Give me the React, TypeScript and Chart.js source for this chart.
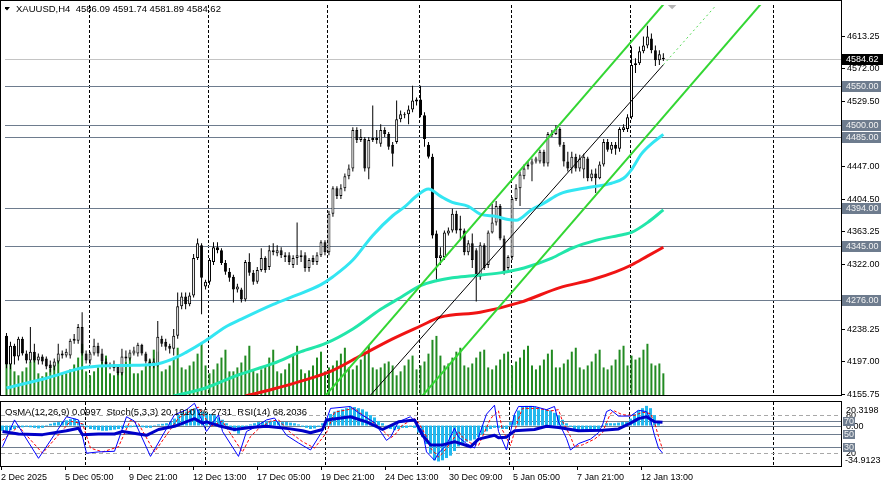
import React, { useEffect, useRef } from "react";
import { Chart, registerables } from "chart.js";

Chart.register(...registerables);

const FONT = '"Liberation Sans", Arial, Helvetica, sans-serif';
Chart.defaults.font.family = FONT;
Chart.defaults.color = "#000";

// ---------------- data ----------------
const symbolHeader = "XAUUSD,H4  4586.09 4591.74 4581.89 4584.62";
const indicatorHeader = "OsMA(12,26,9) 0.0997  Stoch(5,3,3) 20.1910 26.2731  RSI(14) 68.2036";

// H4 candles [open, high, low, close], 2 Dec 2025 13:00 .. 13 Jan 2026 09:00
const ohlc: number[][] = [
  [4230.2, 4234.0, 4188.6, 4193.6], [4193.6, 4222.6, 4187.3, 4217.6], [4217.6, 4220.1, 4193.6, 4203.7],
  [4203.7, 4228.9, 4198.7, 4226.4], [4226.4, 4228.9, 4205.0, 4207.5], [4207.5, 4211.3, 4194.9, 4198.7],
  [4198.7, 4241.5, 4196.2, 4210.0], [4210.0, 4220.1, 4196.2, 4198.7], [4198.7, 4207.5, 4193.6, 4203.7],
  [4203.7, 4206.2, 4193.6, 4197.4], [4201.2, 4203.7, 4187.3, 4191.1], [4193.6, 4198.7, 4183.6, 4188.6],
  [4191.1, 4201.2, 4186.1, 4197.4], [4197.4, 4220.1, 4194.9, 4207.5], [4207.5, 4211.3, 4201.2, 4205.0],
  [4205.0, 4213.8, 4202.5, 4210.0], [4205.0, 4226.4, 4201.2, 4223.9], [4223.9, 4232.7, 4220.1, 4226.4],
  [4223.9, 4245.3, 4220.1, 4241.5], [4241.5, 4260.4, 4205.0, 4207.5], [4207.5, 4211.3, 4194.9, 4198.7],
  [4198.7, 4210.0, 4193.6, 4207.5], [4207.5, 4226.4, 4205.0, 4217.6], [4217.6, 4221.4, 4203.7, 4207.5],
  [4207.5, 4213.8, 4194.9, 4197.4], [4197.4, 4201.2, 4189.9, 4193.6], [4189.9, 4196.2, 4187.3, 4191.1],
  [4193.6, 4198.7, 4184.8, 4188.6], [4191.1, 4193.6, 4179.8, 4182.3], [4182.3, 4213.8, 4179.8, 4203.7],
  [4203.7, 4211.3, 4197.4, 4201.2], [4201.2, 4212.5, 4198.7, 4208.8], [4207.5, 4216.3, 4205.0, 4211.3],
  [4207.5, 4221.4, 4203.7, 4218.8], [4218.8, 4220.1, 4205.0, 4207.5], [4207.5, 4210.0, 4194.9, 4197.4],
  [4197.4, 4201.2, 4189.9, 4192.4], [4192.4, 4201.2, 4188.6, 4197.4], [4192.4, 4249.1, 4191.1, 4228.9],
  [4226.4, 4230.2, 4216.3, 4220.1], [4222.6, 4226.4, 4211.3, 4216.3], [4217.6, 4220.1, 4207.5, 4213.8],
  [4213.8, 4239.0, 4205.0, 4230.2], [4230.2, 4285.6, 4226.4, 4268.0], [4268.0, 4285.6, 4264.2, 4280.6],
  [4280.6, 4285.6, 4264.2, 4270.5], [4270.5, 4285.6, 4268.0, 4281.8], [4281.8, 4334.8, 4279.3, 4329.7],
  [4329.7, 4354.9, 4327.2, 4348.6], [4346.1, 4348.6, 4257.9, 4304.5], [4293.2, 4302.0, 4289.4, 4299.5],
  [4299.5, 4329.7, 4295.7, 4327.2], [4324.7, 4349.9, 4320.9, 4343.6], [4343.6, 4349.9, 4336.0, 4339.8],
  [4339.8, 4342.3, 4320.9, 4323.4], [4323.4, 4327.2, 4308.3, 4312.1], [4312.1, 4317.1, 4299.5, 4304.5],
  [4305.8, 4308.3, 4273.0, 4289.4], [4289.4, 4296.9, 4285.6, 4293.2], [4289.4, 4291.9, 4273.0, 4276.8],
  [4276.8, 4327.2, 4274.3, 4324.7], [4324.7, 4336.0, 4307.0, 4310.8], [4310.8, 4314.6, 4295.7, 4299.5],
  [4299.5, 4318.4, 4296.9, 4314.6], [4314.6, 4342.3, 4312.1, 4329.7], [4329.7, 4332.2, 4310.8, 4314.6],
  [4318.4, 4346.1, 4314.6, 4339.8], [4337.3, 4348.6, 4333.5, 4339.8], [4336.0, 4346.1, 4332.2, 4339.8],
  [4339.8, 4343.6, 4329.7, 4333.5], [4331.0, 4337.3, 4324.7, 4333.5], [4333.5, 4337.3, 4320.9, 4324.7],
  [4320.9, 4333.5, 4317.1, 4329.7], [4329.7, 4375.1, 4320.9, 4333.5], [4331.0, 4339.8, 4324.7, 4333.5],
  [4333.5, 4337.3, 4312.1, 4317.1], [4317.1, 4329.7, 4312.1, 4327.2], [4329.7, 4333.5, 4320.9, 4324.7],
  [4324.7, 4337.3, 4320.9, 4333.5], [4333.5, 4352.4, 4331.0, 4349.9], [4349.9, 4352.4, 4333.5, 4337.3],
  [4337.3, 4390.2, 4333.5, 4386.4], [4386.4, 4421.7, 4382.6, 4419.2], [4419.2, 4421.7, 4405.3, 4409.1],
  [4409.1, 4424.2, 4405.3, 4419.2], [4419.2, 4438.1, 4415.4, 4434.3], [4434.3, 4449.4, 4430.5, 4444.4],
  [4444.4, 4497.3, 4440.6, 4493.5], [4493.5, 4497.3, 4477.1, 4480.9], [4480.9, 4494.8, 4478.4, 4484.7],
  [4482.2, 4484.7, 4440.6, 4444.4], [4444.4, 4484.7, 4430.5, 4480.9], [4480.9, 4525.0, 4478.4, 4483.4],
  [4480.9, 4493.5, 4475.9, 4483.4], [4475.9, 4501.1, 4472.1, 4493.5], [4493.5, 4497.3, 4484.7, 4488.5],
  [4488.5, 4491.0, 4468.3, 4472.1], [4474.6, 4478.4, 4446.9, 4463.3], [4478.4, 4531.3, 4475.9, 4507.4],
  [4507.4, 4518.7, 4503.6, 4513.7], [4512.4, 4516.2, 4508.6, 4513.7], [4513.7, 4525.0, 4501.1, 4520.0],
  [4520.0, 4550.2, 4516.2, 4531.3], [4530.1, 4535.1, 4525.0, 4532.6], [4532.6, 4550.2, 4509.9, 4512.4],
  [4512.4, 4516.2, 4472.1, 4482.2], [4474.6, 4478.4, 4457.0, 4459.5], [4459.5, 4463.3, 4354.9, 4358.7],
  [4361.2, 4365.0, 4302.0, 4329.7], [4329.7, 4343.6, 4320.9, 4333.5], [4331.0, 4365.0, 4327.2, 4362.5],
  [4361.2, 4368.8, 4358.7, 4365.0], [4365.0, 4392.7, 4362.5, 4386.4], [4386.4, 4390.2, 4361.2, 4365.0],
  [4365.0, 4383.9, 4352.4, 4367.5], [4365.0, 4367.5, 4333.5, 4337.3], [4337.3, 4352.4, 4333.5, 4348.6],
  [4348.6, 4361.2, 4317.1, 4327.2], [4339.8, 4342.3, 4274.3, 4305.8], [4305.8, 4349.9, 4302.0, 4346.1],
  [4346.1, 4348.6, 4314.6, 4317.1], [4320.9, 4365.0, 4317.1, 4362.5], [4362.5, 4399.0, 4361.2, 4375.1],
  [4375.1, 4402.8, 4371.3, 4396.5], [4396.5, 4399.0, 4352.4, 4354.9], [4354.9, 4358.7, 4308.3, 4312.1],
  [4317.1, 4333.5, 4314.6, 4331.0], [4331.0, 4407.8, 4327.2, 4405.3], [4405.3, 4424.2, 4402.8, 4419.2],
  [4419.2, 4440.6, 4396.5, 4436.8], [4434.3, 4449.4, 4430.5, 4444.4], [4446.9, 4453.2, 4443.1, 4449.4],
  [4449.4, 4457.0, 4428.0, 4453.2], [4453.2, 4459.5, 4450.7, 4457.0], [4453.2, 4468.3, 4450.7, 4465.8],
  [4465.8, 4468.3, 4446.9, 4450.7], [4450.7, 4491.0, 4446.9, 4488.5], [4487.2, 4493.5, 4484.7, 4488.5],
  [4488.5, 4499.8, 4487.2, 4494.8], [4494.8, 4497.3, 4472.1, 4474.6], [4474.6, 4478.4, 4446.9, 4453.2],
  [4453.2, 4465.8, 4440.6, 4444.4], [4444.4, 4465.8, 4438.1, 4459.5], [4459.5, 4463.3, 4440.6, 4444.4],
  [4444.4, 4462.0, 4440.6, 4457.0], [4443.1, 4463.3, 4431.8, 4459.5], [4457.0, 4459.5, 4428.0, 4431.8],
  [4431.8, 4443.1, 4428.0, 4438.1], [4438.1, 4444.4, 4412.9, 4431.8], [4431.8, 4453.2, 4430.5, 4449.4],
  [4449.4, 4482.2, 4446.9, 4478.4], [4478.4, 4482.2, 4465.8, 4468.3], [4468.3, 4478.4, 4463.3, 4474.6],
  [4474.6, 4478.4, 4462.0, 4469.6], [4469.6, 4497.3, 4465.8, 4494.8], [4493.5, 4501.1, 4491.0, 4497.3],
  [4494.8, 4513.7, 4491.0, 4509.9], [4509.9, 4600.6, 4507.4, 4576.7], [4576.7, 4585.5, 4566.6, 4579.2],
  [4579.2, 4600.6, 4576.7, 4594.3], [4594.3, 4613.2, 4591.8, 4601.9], [4601.9, 4627.1, 4598.1, 4613.2],
  [4610.7, 4617.0, 4591.8, 4595.6], [4595.6, 4601.9, 4575.4, 4583.0], [4583.0, 4595.6, 4576.7, 4590.5],
  [4586.09, 4591.74, 4581.89, 4584.62],
];

// tick volume (thousands)
const volume: number[] = [
  34, 40, 24,
  20, 24, 28, 34, 40, 22, 19, 23, 27, 32, 38, 21, 22, 26, 31, 38, 52, 24,
  20, 24, 28, 34, 40, 22, 20, 24, 28, 34, 42, 22, 22, 25, 30, 36, 46, 44,
  24, 26, 30, 38, 48, 28, 26, 30, 34, 42, 52, 30, 22, 26, 32, 38, 46, 24,
  24, 28, 33, 40, 50, 26, 22, 26, 30, 38, 46, 24, 22, 26, 32, 40, 50, 26,
  22, 25, 30, 38, 44, 24, 28, 30, 35, 42, 48, 28, 26, 30, 36, 42, 50, 28,
  26, 28, 32, 34, 30, 20, 24, 30, 36, 40, 26,
  30, 34, 42, 56, 60, 40, 30, 32, 38, 44, 48, 30, 28, 32, 38, 44, 46, 28,
  26, 30, 36, 42, 44,
  30, 34, 38, 46, 50, 30, 26, 30, 36, 42, 46, 28, 28, 32, 36, 44, 48, 28,
  26, 30, 34, 42, 46, 28, 26, 30, 36, 46, 50, 30, 40, 36, 38, 46, 52, 32,
  30, 32, 22,
];

// moving averages [bar, price]
const maFast: number[][] = [
  [0, 4163.4], [10, 4176.0], [20, 4189.9], [30, 4192.4], [37, 4193.6], [42, 4201.2], [45, 4208.8],
  [50, 4223.9], [55, 4241.5], [59, 4251.6], [67, 4270.5], [72, 4280.6], [79, 4295.7], [82, 4305.8],
  [87, 4327.2], [92, 4358.7], [97, 4383.9], [100, 4395.2], [103, 4409.1], [106, 4418.0], [109, 4409.0],
  [112, 4401.0], [116, 4396.0], [119, 4386.0], [123, 4383.0], [126, 4379.0], [128, 4378.0], [132, 4392.0],
  [135, 4400.0], [139, 4412.0], [145, 4419.0], [152, 4425.5], [155, 4431.8], [157, 4443.0], [159.5, 4463.0],
  [162.5, 4478.0], [165, 4488.0],
];
const maMid: number[][] = [
  [42, 4153.3], [50, 4163.4], [58, 4179.8], [67, 4194.9], [74, 4210.0], [80, 4220.1], [87, 4239.0],
  [94, 4264.2], [99, 4279.3], [104, 4294.4], [108, 4300.7], [112, 4304.5], [117, 4307.0], [124, 4310.8],
  [130, 4317.1], [137, 4329.7], [142, 4342.3], [148, 4352.4], [155, 4359.9], [157, 4362.5], [161, 4375.1],
  [165, 4391.4],
];
const maSlow: number[][] = [
  [60, 4153.3], [67, 4162.1], [74, 4172.2], [82, 4186.1], [89, 4205.0], [97, 4226.4], [104, 4242.8],
  [109, 4254.1], [119, 4260.4], [129, 4273.0], [139, 4291.9], [147, 4302.0], [153, 4312.1], [157, 4320.9],
  [161, 4332.2], [165, 4343.6],
];

// trend channel [bar, price]
const channelUpper: number[][] = [[80, 4153.0], [167, 4666.0]];
const channelLower: number[][] = [[104, 4150.7], [190, 4657.8]];
const channelMid: number[][] = [[91, 4151.8], [165, 4577.1]];
const channelMidExt: number[][] = [[165, 4577.1], [178, 4651.8]];
const topMarker: number[][] = [[167.2, 4654.5]];

const levels = [4550, 4500, 4485, 4394, 4345, 4276];
const lastPrice = 4584.62;
const priceTicks = [4613.25, 4572.0, 4529.5, 4447.0, 4404.5, 4363.25, 4322.0, 4238.25, 4197.0, 4155.75];

const weekStarts = [21, 51, 81, 104, 127, 157, 193];
const timeTicks = [0, 16, 32, 48, 64, 80, 96, 112, 128, 144, 160];
const timeLabels = [
  "2 Dec 2025", "5 Dec 05:00", "9 Dec 21:00", "12 Dec 13:00", "17 Dec 05:00", "19 Dec 21:00",
  "24 Dec 13:00", "30 Dec 09:00", "5 Jan 05:00", "7 Jan 21:00", "12 Jan 13:00",
];

// OsMA(12,26,9) per bar
const osma: number[] = [
  -4.5, -5, -4,
  -3, -2, -1.5, -1, -1.5, -2, -2.5, -2,
  0.5, 1.5, 2.5, 3, 3.5, 4.5, 5.5, 6,
  4, 1.5,
  -1.5, -3, -3.5, -4, -4.5, -4.5, -4, -3.5, -3, -2.5, -2, -1.5, -1,
  -1, -1.5, -2, -2,
  0.5, 1, 1.5, 2, 3,
  6, 9, 11, 12, 14, 15, 14,
  12, 11, 10, 9, 7, 5,
  2, -2, -5, -7,
  -3, -1, 1, 2, 3,
  3, 3.5, 4, 4, 3.5, 3, 3, 2.5, 2, 1,
  -1, -2, -3, -2.5, -1,
  2, 6, 10, 12, 13, 14, 15, 16, 16, 15, 14, 12,
  9, 7, 4, 2,
  -1, -3, -4, -3, -2, -2, -1,
  -2,
  -6, -10, -16, -24, -30, -31, -30, -28, -26,
  -22, -18, -16, -14, -13, -12, -10, -8, -5,
  -3, -2, -2, -3, -3,
  3, 9, 13, 16, 17, 17, 16, 15, 14, 14, 13, 11, 9,
  5, 2,
  -1, -3, -4, -5, -5, -5, -4, -3,
  0.5, 2, 2, 2, 2.5, 3, 3,
  6, 10, 13, 15, 17, 15, 9,
  4, 0.0997,
];

// Stochastic(5,3,3) and RSI(14) [bar, value]
const stochMain: number[][] = [
  [0, 30], [3, 72], [9, 12], [16, 77], [19, 72], [21, 20], [24, 22], [28, 23], [31, 77], [33, 70], [37, 15],
  [43, 80], [46, 88], [48, 98], [51, 54], [54, 80], [55, 54], [59, 15], [61, 54], [63, 60], [66, 72], [68, 75],
  [71, 48], [74, 36], [77, 25], [80, 55], [82, 90], [87, 93], [89, 83], [93, 68], [96, 40], [97, 45], [99, 69],
  [102, 77], [103, 70], [105, 54], [106, 22], [108, 9], [109, 20], [111, 33], [113, 59], [114, 45], [116, 35],
  [118, 28], [119, 45], [121, 81], [123, 95], [124, 54], [126, 25], [128, 81], [129, 93], [133, 93], [136, 88],
  [138, 93], [139, 69], [141, 43], [142, 25], [144, 35], [147, 42], [149, 52], [150, 64], [151, 85], [152, 88],
  [154, 78], [157, 78], [159, 87], [161, 85], [162, 72], [163, 48], [164, 28], [165, 20.191],
];
const stochSignal: number[][] = [
  [0, 40], [4, 62], [10, 20], [17, 70], [20, 66], [22, 28], [25, 22], [29, 30], [32, 72], [34, 66], [38, 22],
  [44, 75], [47, 86], [49, 92], [52, 62], [55, 70], [56, 60], [60, 22], [62, 46], [64, 58], [67, 70], [69, 72],
  [72, 52], [75, 38], [78, 28], [81, 52], [83, 84], [88, 90], [90, 80], [94, 62], [97, 44], [98, 48], [100, 64],
  [103, 74], [104, 68], [106, 46], [107, 28], [109, 14], [110, 20], [112, 36], [114, 54], [115, 45], [117, 36],
  [119, 32], [120, 46], [122, 74], [124, 86], [125, 56], [127, 32], [129, 74], [130, 90], [134, 90], [137, 86],
  [139, 88], [140, 70], [142, 46], [143, 30], [145, 33], [148, 42], [150, 52], [151, 68], [152, 82], [153, 86],
  [155, 80], [158, 79], [160, 84], [162, 82], [163, 68], [164, 46], [165, 26.2731],
];
const rsi: number[][] = [
  [0, 54], [4, 50], [10, 49], [16, 55], [19, 59], [20, 49], [24, 50], [28, 50], [30, 54], [36, 48], [39, 57],
  [43, 62], [48, 74], [50, 67], [51, 69], [54, 63], [58, 57], [62, 60], [66, 62], [72, 58], [75, 55], [77, 52],
  [80, 57], [81, 72], [87, 77], [91, 69], [95, 57], [99, 69], [103, 72], [105, 48], [107, 33], [110, 33],
  [113, 38], [117, 30], [119, 42], [123, 48], [124, 44], [126, 45], [128, 55], [133, 57], [136, 62], [139, 60],
  [144, 55], [150, 56], [154, 58], [157, 67], [159, 74], [161, 77], [163, 69], [165, 68.2036],
];
const stochLevels = [80, 20];
const rsiLevels = [70, 50, 30];
const OSMA_MIN = -34.9123;
const OSMA_MAX = 20.3198;

// ---------------- layout constants ----------------
const X_MIN = -0.375;
const X_MAX = 209.625;
const PRICE_MIN = 4154.5;
const PRICE_MAX = 4653.6;
const LEVEL_GREY = "#6E7C8E";

const pts = (arr: number[][]) => arr.map(([x, y]) => ({ x, y }));

function hLine(ctx: CanvasRenderingContext2D, a: any, py: number) {
  const y = Math.round(py) + 0.5;
  ctx.beginPath();
  ctx.moveTo(a.left, y);
  ctx.lineTo(a.right, y);
  ctx.stroke();
}

function weekLines(ctx: CanvasRenderingContext2D, a: any, xs: any) {
  ctx.strokeStyle = "#000";
  ctx.lineWidth = 1;
  ctx.setLineDash([3, 2]);
  for (const w of weekStarts) {
    const px = Math.floor(xs.getPixelForValue(w - 0.25)) + 0.5;
    ctx.beginPath();
    ctx.moveTo(px, a.top);
    ctx.lineTo(px, a.bottom);
    ctx.stroke();
  }
  ctx.setLineDash([]);
}

const mainPlugin = {
  id: "mt4Main",
  beforeDatasetsDraw(chart: any) {
    const { ctx, chartArea: a } = chart;
    const xs = chart.scales.x;
    const ys = chart.scales.y;
    ctx.save();
    ctx.beginPath();
    ctx.rect(a.left, a.top, a.right - a.left, a.bottom - a.top);
    ctx.clip();
    // header
    ctx.fillStyle = "#000";
    ctx.beginPath();
    ctx.moveTo(4, 7);
    ctx.lineTo(10, 7);
    ctx.lineTo(7, 10.5);
    ctx.closePath();
    ctx.fill();
    ctx.font = `9.5px ${FONT}`;
    ctx.textAlign = "left";
    ctx.textBaseline = "alphabetic";
    ctx.fillText(symbolHeader, 16, 12);
    weekLines(ctx, a, xs);
    ctx.lineWidth = 1;
    ctx.strokeStyle = LEVEL_GREY;
    for (const v of levels) hLine(ctx, a, ys.getPixelForValue(v));
    ctx.strokeStyle = "#C4C4C4";
    hLine(ctx, a, ys.getPixelForValue(lastPrice));
    ctx.restore();
  },
  afterDraw(chart: any) {
    const { ctx, chartArea: a } = chart;
    const ys = chart.scales.y;
    ctx.save();
    ctx.strokeStyle = "#000";
    ctx.lineWidth = 1;
    ctx.strokeRect(0.5, 0.5, a.right - 0.5 + 0.5, a.bottom - 0.5 + 0.5);
    ctx.font = `9px ${FONT}`;
    ctx.textAlign = "left";
    ctx.textBaseline = "middle";
    for (const v of levels) {
      const py = Math.round(ys.getPixelForValue(v));
      ctx.fillStyle = LEVEL_GREY;
      ctx.fillRect(a.right + 1, py - 5, 39, 11);
      ctx.fillStyle = "#F2F2F2";
      ctx.fillText(v.toFixed(2), a.right + 5, py + 0.5);
    }
    const lp = Math.round(ys.getPixelForValue(lastPrice));
    ctx.fillStyle = "#000";
    ctx.fillRect(a.right + 1, lp - 5, 41, 11);
    ctx.fillStyle = "#FFF";
    ctx.fillText(lastPrice.toFixed(2), a.right + 5, lp + 0.5);
    ctx.restore();
  },
};

const subPlugin = {
  id: "mt4Sub",
  beforeDatasetsDraw(chart: any) {
    const { ctx, chartArea: a } = chart;
    const xs = chart.scales.x;
    const ys = chart.scales.ys;
    const yo = chart.scales.yo;
    ctx.save();
    ctx.beginPath();
    ctx.rect(a.left, a.top, a.right - a.left, a.bottom - a.top);
    ctx.clip();
    weekLines(ctx, a, xs);
    ctx.lineWidth = 1;
    ctx.strokeStyle = "#A8A8A8";
    ctx.setLineDash([4, 3]);
    for (const v of stochLevels) hLine(ctx, a, ys.getPixelForValue(v));
    ctx.setLineDash([]);
    ctx.strokeStyle = LEVEL_GREY;
    for (const v of rsiLevels) hLine(ctx, a, ys.getPixelForValue(v));
    hLine(ctx, a, yo.getPixelForValue(0));
    ctx.restore();
  },
  afterDraw(chart: any) {
    const { ctx, chartArea: a } = chart;
    const ys = chart.scales.ys;
    const yo = chart.scales.yo;
    ctx.save();
    // frame
    ctx.strokeStyle = "#000";
    ctx.lineWidth = 1;
    ctx.strokeRect(0.5, a.top - 0.5, a.right, a.bottom - a.top + 1);
    // header
    ctx.fillStyle = "#000";
    ctx.font = `9.5px ${FONT}`;
    ctx.textAlign = "left";
    ctx.textBaseline = "alphabetic";
    ctx.fillText(indicatorHeader, 5, a.top + 13);
    // right labels
    ctx.font = `9px ${FONT}`;
    const lx = a.right + 5;
    ctx.textBaseline = "middle";
    ctx.fillText("80", lx, ys.getPixelForValue(80) + 0.5);
    ctx.fillText("20", lx, ys.getPixelForValue(20) + 0.5);
    ctx.fillText("0.00", lx, yo.getPixelForValue(0) + 1);
    ctx.textBaseline = "alphabetic";
    ctx.fillStyle = "#FFF";
    ctx.fillRect(a.right + 2, a.top + 3, 42, 8);
    ctx.fillRect(a.right + 2, a.bottom - 10, 42, 8);
    ctx.fillStyle = "#000";
    ctx.fillText(OSMA_MAX.toFixed(4), lx, a.top + 10.5);
    ctx.fillText(OSMA_MIN.toFixed(4), a.right + 4, a.bottom - 3.5);
    ctx.textBaseline = "middle";
    ctx.textAlign = "center";
    for (const v of rsiLevels) {
      const py = Math.round(ys.getPixelForValue(v));
      ctx.fillStyle = LEVEL_GREY;
      ctx.fillRect(a.right + 2, py - 4, 12, 9);
      ctx.fillStyle = "#F2F2F2";
      ctx.fillText(String(v), a.right + 8, py + 0.5);
    }
    ctx.restore();
  },
};

function mainConfig(): any {
  const bodies = ohlc.map(([o, , , c], i) => ({ x: i, y: [Math.min(o, c), Math.max(o, c)] }));
  const wicks = ohlc.map(([, h, l], i) => ({ x: i, y: [l, h] }));
  const bodyColors = ohlc.map(([o, , , c]) => (c >= o ? "#FFFFFF" : "#000000"));
  const line = (data: number[][], color: string, width: number, order: number, extra: any = {}) => ({
    type: "line",
    data: pts(data),
    borderColor: color,
    borderWidth: width,
    pointRadius: 0,
    order,
    borderJoinStyle: "round",
    ...extra,
  });
  return {
    type: "bar",
    data: {
      datasets: [
        {
          type: "bar", data: bodies, backgroundColor: bodyColors, borderColor: "#000", borderWidth: 1,
          borderSkipped: false, barThickness: 3, grouped: false, minBarLength: 1, inflateAmount: 0, order: 3,
        },
        {
          type: "bar", data: wicks, backgroundColor: "#000", borderWidth: 0, barThickness: 1,
          grouped: false, inflateAmount: 0, order: 4,
        },
        {
          type: "bar", data: volume.map((v, i) => ({ x: i, y: v })), yAxisID: "yv", backgroundColor: "#228B22",
          borderWidth: 0, barThickness: 2, grouped: false, inflateAmount: 0, order: 6,
        },
        line(maSlow, "#F01414", 3, 2, { cubicInterpolationMode: "monotone" }),
        line(maMid, "#22E6AA", 3, 2, { cubicInterpolationMode: "monotone" }),
        line(maFast, "#33E6F2", 3, 2, { cubicInterpolationMode: "monotone" }),
        line(channelUpper, "#33D633", 2, 1),
        line(channelLower, "#33D633", 2, 1),
        line(channelMid, "#000000", 1, 1),
        line(channelMidExt, "#55D855", 1, 1, { borderDash: [2, 3] }),
        {
          type: "line", data: pts(topMarker), showLine: false, pointStyle: "rectRot", pointRadius: 5,
          pointBackgroundColor: "#B4B4B4", pointBorderWidth: 0, order: 1,
        },
      ],
    },
    options: {
      animation: false,
      responsive: false,
      devicePixelRatio: 1,
      events: [],
      layout: { padding: { left: 1, top: 1, right: 0, bottom: 3 } },
      plugins: { legend: { display: false }, tooltip: { enabled: false } },
      scales: {
        x: { type: "linear", min: X_MIN, max: X_MAX, offset: false, display: false, grid: { offset: false } },
        y: {
          type: "linear",
          position: "right",
          min: PRICE_MIN,
          max: PRICE_MAX,
          afterBuildTicks: (s: any) => {
            s.ticks = priceTicks.map((v) => ({ value: v }));
          },
          afterFit: (s: any) => {
            s.width = 44;
            s.paddingTop = 0;
            s.paddingBottom = 0;
          },
          grid: { drawOnChartArea: false, drawTicks: true, tickLength: 4, color: "#000", lineWidth: 1 },
          border: { display: false },
          ticks: {
            autoSkip: false,
            padding: 2,
            color: "#000",
            font: { family: FONT, size: 9 },
            callback: (v: any) => Number(v).toFixed(2),
          },
        },
        yv: { type: "linear", display: false, min: 0, max: 396 },
      },
    },
    plugins: [mainPlugin],
  };
}

function subConfig(): any {
  const line = (data: number[][], color: string, width: number, order: number, extra: any = {}) => ({
    type: "line",
    data: pts(data),
    yAxisID: "ys",
    borderColor: color,
    borderWidth: width,
    pointRadius: 0,
    order,
    borderJoinStyle: "round",
    ...extra,
  });
  return {
    type: "bar",
    data: {
      datasets: [
        {
          type: "bar", data: osma.map((v, i) => ({ x: i, y: v })), yAxisID: "yo", backgroundColor: "#22B8EE",
          borderWidth: 0, barThickness: 3, grouped: false, inflateAmount: 0, order: 5,
        },
        line(stochSignal, "#FF0000", 1, 3, { borderDash: [3, 2] }),
        line(stochMain, "#0000FF", 1, 2),
        line(rsi, "#0000C8", 3, 1),
      ],
    },
    options: {
      animation: false,
      responsive: false,
      devicePixelRatio: 1,
      events: [],
      layout: { padding: { left: 1, top: 2, right: 44, bottom: 0 } },
      plugins: { legend: { display: false }, tooltip: { enabled: false } },
      scales: {
        x: {
          type: "linear",
          min: X_MIN,
          max: X_MAX,
          offset: false,
          position: "bottom",
          afterBuildTicks: (s: any) => {
            s.ticks = timeTicks.map((v) => ({ value: v - 0.375 }));
          },
          afterFit: (s: any) => {
            s.height = 19;
            s.paddingLeft = 0;
            s.paddingRight = 0;
          },
          grid: { offset: false, drawOnChartArea: false, drawTicks: true, tickLength: 4, color: "#000" },
          border: { display: false },
          ticks: {
            autoSkip: false,
            maxRotation: 0,
            minRotation: 0,
            align: "start",
            padding: 2,
            color: "#000",
            font: { family: FONT, size: 9 },
            callback: (_v: any, idx: number) => timeLabels[idx] ?? "",
          },
        },
        ys: { type: "linear", display: false, min: 0, max: 100 },
        yo: { type: "linear", display: false, min: OSMA_MIN, max: OSMA_MAX },
      },
    },
    plugins: [subPlugin],
  };
}

export default function App() {
  const mainRef = useRef<HTMLCanvasElement>(null);
  const subRef = useRef<HTMLCanvasElement>(null);

  useEffect(() => {
    document.body.style.margin = "0";
    const main = new Chart(mainRef.current as HTMLCanvasElement, mainConfig());
    const sub = new Chart(subRef.current as HTMLCanvasElement, subConfig());
    return () => {
      main.destroy();
      sub.destroy();
    };
  }, []);

  return (
    <div style={{ position: "fixed", left: 0, top: 0, width: 885, height: 485, background: "#fff", overflow: "hidden" }}>
      <canvas
        ref={mainRef}
        width={885}
        height={400}
        style={{ position: "absolute", left: 0, top: 0, width: 885, height: 400 }}
      />
      <canvas
        ref={subRef}
        width={885}
        height={85}
        style={{ position: "absolute", left: 0, top: 400, width: 885, height: 85 }}
      />
    </div>
  );
}
